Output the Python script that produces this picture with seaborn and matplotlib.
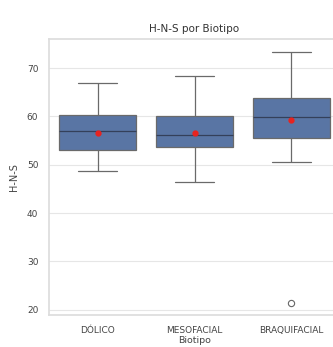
import pandas as pd
import seaborn as sns
import matplotlib.pyplot as plt

# estimated H-N-S values per biotype (read off the boxes)
dolico = [48.8, 50.5, 53.1, 54.0, 56.9, 57.2, 60.3, 60.8, 66.9]
mesofacial = [46.5, 48.0, 50.0, 52.0, 53.7, 54.0, 54.5, 55.0, 56.1,
              56.5, 57.0, 58.0, 60.0, 61.5, 63.3, 66.0, 68.4]
braquifacial = [21.4, 50.5, 54.5, 55.2, 55.6, 58.5, 59.2, 59.6, 59.8,
                61.5, 62.5, 63.2, 63.7, 68.0, 70.5, 71.0, 73.4]
categories = ["DÓLICO", "MESOFACIAL", "BRAQUIFACIAL"]

df = pd.DataFrame({
    "Biotipo": [categories[0]] * len(dolico) + [categories[1]] * len(mesofacial)
               + [categories[2]] * len(braquifacial),
    "H-N-S": dolico + mesofacial + braquifacial,
})

sns.set_theme(style="whitegrid")
plt.rcParams['font.family'] = ['DejaVu Sans']

fig = plt.figure(figsize=(3.33, 3.47), dpi=100)
ax = fig.add_axes([0.1486, 0.092, 0.871, 0.797])

sns.boxplot(data=df, x="Biotipo", y="H-N-S", order=categories, ax=ax,
            color="#4c72b0", saturation=0.75, width=0.8, linecolor="#6a6a6a", linewidth=0.9,
            showmeans=True,
            medianprops=dict(color="#34405a", linewidth=0.9),
            meanprops=dict(marker="o", markerfacecolor="#e8231f", markeredgecolor="#e8231f",
                           markersize=3.5),
            flierprops=dict(marker="o", markerfacecolor="white", markeredgecolor="#666666",
                            markersize=4.5, markeredgewidth=0.8))

ax.set_ylim(18.9, 76.1)
ax.set_yticks([20, 30, 40, 50, 60, 70])
ax.set_title("H-N-S por Biotipo", fontsize=7.5, color="#333333", pad=5)
ax.set_xlabel("Biotipo", fontsize=6.8, color="#444444", labelpad=0.5)
ax.set_ylabel("H-N-S", fontsize=7, color="#444444", labelpad=6)
ax.tick_params(axis="both", labelsize=6.5, colors="#444444", pad=2)
for s in ax.spines.values():
    s.set_color("#dddddd")
ax.grid(axis="y", color="#e6e6e6", linewidth=0.8)

fig.savefig("out.png", dpi=100)
